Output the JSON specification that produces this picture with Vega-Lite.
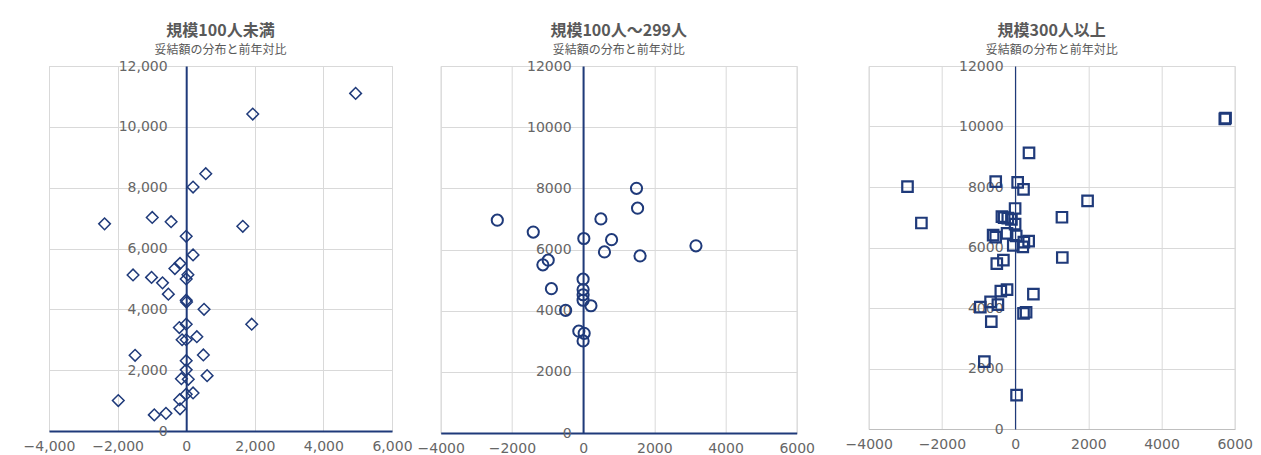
{
  "$schema": "https://vega.github.io/schema/vega-lite/v6.json",
  "padding": {"left": 22, "top": 22, "right": 0, "bottom": 0},
  "background": "white",
  "bounds": "flush",
  "spacing": 48.7,
  "config": {
    "view": {"stroke": "#d9d9d9", "strokeWidth": 1},
    "axis": {"grid": true, "gridColor": "#d9d9d9", "gridWidth": 1, "labelFont": "DejaVu Sans", "labelFontSize": 14, "labelColor": "#666666", "ticks": false, "tickSize": 0, "labelOverlap": false},
    "title": {"font": "Noto Sans CJK JP", "fontSize": 16, "fontWeight": "bold", "color": "#595959", "subtitleFont": "Noto Sans CJK JP", "subtitleFontSize": 12, "subtitleColor": "#595959", "subtitleFontWeight": "normal", "subtitlePadding": 6, "offset": 3, "anchor": "middle"}
  },
  "datasets": {
    "d1": [
      {"x": 4940, "y": 11100}, {"x": 1940, "y": 10420}, {"x": 570, "y": 8460}, {"x": 200, "y": 8020},
      {"x": -2380, "y": 6810}, {"x": -990, "y": 7020}, {"x": -440, "y": 6880}, {"x": 1650, "y": 6730},
      {"x": 0, "y": 6400}, {"x": 200, "y": 5790}, {"x": -180, "y": 5510}, {"x": -330, "y": 5340},
      {"x": -1550, "y": 5130}, {"x": -1010, "y": 5050}, {"x": 50, "y": 5140}, {"x": 0, "y": 5000},
      {"x": -690, "y": 4870}, {"x": -520, "y": 4500}, {"x": 0, "y": 4300}, {"x": 10, "y": 4240},
      {"x": 520, "y": 4000}, {"x": 1910, "y": 3510}, {"x": 0, "y": 3510}, {"x": -200, "y": 3400},
      {"x": 310, "y": 3100}, {"x": -120, "y": 3000}, {"x": 0, "y": 3000}, {"x": -1490, "y": 2490},
      {"x": 500, "y": 2500}, {"x": 0, "y": 2310}, {"x": 0, "y": 2010}, {"x": 610, "y": 1820},
      {"x": -140, "y": 1720}, {"x": 60, "y": 1700}, {"x": 200, "y": 1250}, {"x": 0, "y": 1210},
      {"x": -190, "y": 1030}, {"x": -1980, "y": 1000}, {"x": -180, "y": 730}, {"x": -590, "y": 580},
      {"x": -930, "y": 530}
    ],
    "d2": [
      {"x": 1500, "y": 8000}, {"x": 1530, "y": 7350}, {"x": -2410, "y": 6960}, {"x": 500, "y": 7000},
      {"x": -1400, "y": 6570}, {"x": 20, "y": 6360}, {"x": 800, "y": 6320}, {"x": 3170, "y": 6120},
      {"x": 600, "y": 5920}, {"x": 1600, "y": 5790}, {"x": -980, "y": 5650}, {"x": -1130, "y": 5500},
      {"x": -890, "y": 4720}, {"x": 0, "y": 5030}, {"x": 0, "y": 4690}, {"x": 0, "y": 4520},
      {"x": 0, "y": 4340}, {"x": 220, "y": 4160}, {"x": -490, "y": 4010}, {"x": -120, "y": 3330},
      {"x": 30, "y": 3260}, {"x": 0, "y": 3010}
    ],
    "d3": [
      {"x": 5730, "y": 10250}, {"x": 5750, "y": 10280}, {"x": 380, "y": 9130}, {"x": -2940, "y": 8010},
      {"x": -530, "y": 8180}, {"x": 70, "y": 8150}, {"x": 230, "y": 7920}, {"x": 1980, "y": 7540},
      {"x": 0, "y": 7290}, {"x": -2560, "y": 6810}, {"x": 1280, "y": 7000}, {"x": -360, "y": 7020},
      {"x": -300, "y": 6990}, {"x": -200, "y": 6970}, {"x": -100, "y": 6930}, {"x": 0, "y": 6770},
      {"x": -220, "y": 6470}, {"x": -600, "y": 6410}, {"x": -530, "y": 6340}, {"x": 30, "y": 6380},
      {"x": 240, "y": 6180}, {"x": 370, "y": 6210}, {"x": -50, "y": 6070}, {"x": 210, "y": 6020},
      {"x": 1290, "y": 5670}, {"x": -320, "y": 5580}, {"x": -500, "y": 5470}, {"x": -220, "y": 4610},
      {"x": -390, "y": 4560}, {"x": 500, "y": 4460}, {"x": -670, "y": 4200}, {"x": -470, "y": 4110},
      {"x": -950, "y": 4030}, {"x": 300, "y": 3860}, {"x": 230, "y": 3820}, {"x": -650, "y": 3550},
      {"x": -840, "y": 2230}, {"x": 40, "y": 1120}
    ]
  },
  "hconcat": [
    {
      "width": 343, "height": 365,
      "title": {"text": "規模100人未満", "subtitle": "妥結額の分布と前年対比"},
      "data": {"name": "d1"},
      "mark": {"type": "point", "shape": "diamond", "filled": false, "stroke": "#1f3a7a", "strokeWidth": 1.5, "size": 135, "opacity": 1},
      "encoding": {
        "x": {"field": "x", "type": "quantitative", "scale": {"domain": [-4000, 6000], "nice": false, "zero": false},
          "axis": {"title": null, "values": [-4000, -2000, 0, 2000, 4000, 6000], "format": ",d", "labelFlush": false, "domainColor": "#1f3a7a", "domainWidth": 2, "labelPadding": 8}},
        "y": {"field": "y", "type": "quantitative", "scale": {"domain": [0, 12000], "nice": false},
          "axis": {"title": null, "offset": -137.2, "values": [0, 2000, 4000, 6000, 8000, 10000, 12000], "format": ",d", "domainColor": "#1f3a7a", "domainWidth": 2, "labelPadding": 19}}
      }
    },
    {
      "spacing": 72,
      "bounds": "flush",
      "hconcat": [
        {
          "width": 356, "height": 367,
          "title": {"text": "規模100人～299人", "subtitle": "妥結額の分布と前年対比"},
          "data": {"name": "d2"},
          "mark": {"type": "point", "shape": "circle", "filled": false, "stroke": "#1f3a7a", "strokeWidth": 2, "size": 125, "opacity": 1},
          "encoding": {
            "x": {"field": "x", "type": "quantitative", "scale": {"domain": [-4000, 6000], "nice": false, "zero": false},
              "axis": {"title": null, "values": [-4000, -2000, 0, 2000, 4000, 6000], "format": "d", "labelFlush": false, "domainColor": "#1f3a7a", "domainWidth": 2, "labelPadding": 8}},
            "y": {"field": "y", "type": "quantitative", "scale": {"domain": [0, 12000], "nice": false},
              "axis": {"title": null, "offset": -142.4, "values": [0, 2000, 4000, 6000, 8000, 10000, 12000], "format": "d", "domainColor": "#1f3a7a", "domainWidth": 2, "labelPadding": 12}}
          }
        },
        {
          "width": 366, "height": 363,
          "title": {"text": "規模300人以上", "subtitle": "妥結額の分布と前年対比"},
          "data": {"name": "d3"},
          "mark": {"type": "point", "shape": "square", "filled": false, "stroke": "#1f3a7a", "strokeWidth": 2.2, "size": 110, "opacity": 1},
          "encoding": {
            "x": {"field": "x", "type": "quantitative", "scale": {"domain": [-4000, 6000], "nice": false, "zero": false},
              "axis": {"title": null, "values": [-4000, -2000, 0, 2000, 4000, 6000], "format": "d", "labelFlush": false, "domainColor": "#bfbfbf", "domainWidth": 1, "labelPadding": 8}},
            "y": {"field": "y", "type": "quantitative", "scale": {"domain": [0, 12000], "nice": false},
              "axis": {"title": null, "offset": -146.4, "values": [0, 2000, 4000, 6000, 8000, 10000, 12000], "format": "d", "domainColor": "#1f3a7a", "domainWidth": 1.2, "labelPadding": 12}}
          }
        }
      ]
    }
  ]
}
